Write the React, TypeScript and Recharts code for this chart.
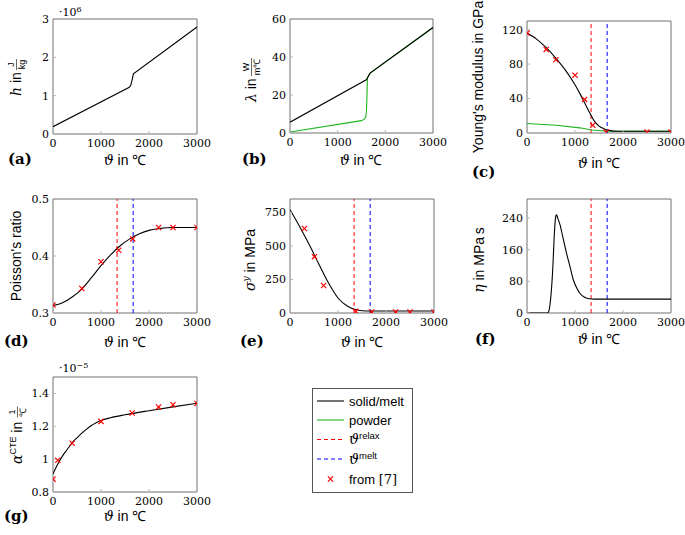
import React from 'react';
import { ComposedChart, Line, Scatter, XAxis, YAxis, ReferenceLine, ReferenceArea } from 'recharts';

const SANS = "'Liberation Sans', Arial, sans-serif";
const SERIF = "'DejaVu Serif', serif";

const tempTicks = [0, 1000, 2000, 3000];
const relaxT = 1335;
const meltT = 1670;

// (a) enthalpy, 1e6 J/kg
const enthalpyT = [0, 1590, 1620, 1650, 1675, 3000];
const enthalpy = [0.19, 1.22, 1.27, 1.42, 1.57, 2.79];

// (b) conductivity
const condSolidT = [0, 1600, 1680, 3000];
const condSolid = [5.7, 28, 31.5, 55.5];
const condPowderT = [0, 1500, 1560, 1590, 1605, 1615, 1625, 1680, 3000];
const condPowder = [0.5, 6.5, 7.3, 8.5, 12, 20, 29, 31.5, 55.5];

// (c) Young's modulus
const youngT = [0, 200, 400, 600, 800, 1000, 1100, 1200, 1300, 1400, 1500, 1600, 1700, 1900, 3000];
const youngSolid = [116, 109, 99, 87, 73, 56, 46, 35, 24, 14, 8, 5, 3, 2, 2];
const youngPowderT = [0, 600, 1100, 1350, 1700, 3000];
const youngPowder = [11, 9, 6, 3.5, 2, 2];
const youngRefT = [0, 400, 600, 1000, 1200, 1370, 1650, 2500, 3000];
const youngRef = [116, 97, 85, 67, 39, 9, 1, 1, 1];

// (d) Poisson's ratio
const poissonT = [0, 200, 400, 600, 800, 1000, 1200, 1400, 1600, 1800, 2000, 2200, 2500, 3000];
const poisson = [0.313, 0.318, 0.328, 0.342, 0.362, 0.383, 0.402, 0.418, 0.43, 0.439, 0.445, 0.448, 0.45, 0.45];
const poissonRefT = [0, 600, 1000, 1370, 1660, 2200, 2500, 3000];
const poissonRef = [0.314, 0.343, 0.39, 0.41, 0.43, 0.45, 0.45, 0.45];

// (e) yield stress
const yieldT = [0, 200, 400, 600, 800, 1000, 1200, 1400, 1600, 3000];
const yieldFit = [770, 645, 510, 365, 225, 112, 50, 22, 15, 15];
const yieldRefT = [300, 510, 700, 1370, 1700, 2200, 2500, 3000];
const yieldRef = [630, 420, 205, 12, 8, 8, 8, 8];

// (f) viscosity
const viscT = [0, 420, 450, 480, 510, 540, 570, 600, 615, 640, 690, 750, 830, 900, 970, 1050, 1100, 1200, 1300, 1400, 3000];
const visc = [0, 0, 3, 22, 60, 120, 200, 245, 248, 240, 222, 190, 148, 115, 82, 60, 50, 40, 36, 35, 35];

// (g) thermal expansion, 1e-5 1/C
const cteT = [0, 100, 200, 300, 400, 500, 600, 700, 800, 900, 1000, 1200, 1500, 2000, 2500, 3000];
const cte = [0.91, 0.97, 1.02, 1.06, 1.1, 1.13, 1.158, 1.183, 1.205, 1.222, 1.235, 1.252, 1.27, 1.295, 1.318, 1.34];
const cteRefT = [0, 100, 400, 1000, 1650, 2200, 2500, 3000];
const cteRef = [0.878, 0.993, 1.097, 1.23, 1.281, 1.318, 1.331, 1.339];

const pts = (xs: number[], ys: number[]) => xs.map((x, i) => ({ x, y: ys[i] }));

function Cross(props: any) {
    const { cx, cy } = props;
    if (cx == null || cy == null) return null;
    const s = 2.6;
    return (
        <path
            d={`M${cx - s},${cy - s}L${cx + s},${cy + s}M${cx - s},${cy + s}L${cx + s},${cy - s}`}
            stroke="#ff0000"
            strokeWidth={1.2}
            fill="none"
        />
    );
}

type Curve = { data: { x: number; y: number }[]; color: string; type?: 'linear' | 'monotone' };

type PanelProps = {
    left: number;
    top: number;
    w: number;
    h: number;
    yDomain: [number, number];
    yTicks: number[];
    curves: Curve[];
    markers?: { x: number; y: number }[];
    refLines?: boolean;
};

function Panel({ left, top, w, h, yDomain, yTicks, curves, markers, refLines }: PanelProps) {
    const YW = 45;
    const MT = 8;
    const MR = 24;
    const XH = 30;
    return (
        <div style={{ position: 'absolute', left: left - YW, top: top - MT }}>
            <ComposedChart width={w + YW + MR} height={h + MT + XH} margin={{ top: MT, right: MR, bottom: 0, left: 0 }}>
                <XAxis
                    dataKey="x"
                    type="number"
                    domain={[0, 3000]}
                    ticks={tempTicks}
                    interval={0}
                    allowDataOverflow
                    axisLine={false}
                    tickSize={-3}
                    tickMargin={8}
                    tickLine={{ stroke: '#b5b5b5' }}
                    tick={{ fontFamily: SERIF, fontSize: 11, fill: '#000' }}
                    height={XH}
                />
                <YAxis
                    dataKey="y"
                    type="number"
                    domain={yDomain}
                    ticks={yTicks}
                    interval={0}
                    allowDataOverflow
                    axisLine={false}
                    width={YW}
                    tickSize={-3}
                    tickMargin={7}
                    tickLine={{ stroke: '#b5b5b5' }}
                    tick={{ fontFamily: SERIF, fontSize: 11, fill: '#000' }}
                />
                <ReferenceArea x1={0} x2={3000} y1={yDomain[0]} y2={yDomain[1]} fill="none" fillOpacity={0} stroke="#707070" strokeWidth={1} />
                {refLines && <ReferenceLine x={relaxT} stroke="#ff0000" strokeDasharray="4 3" strokeWidth={1} />}
                {refLines && <ReferenceLine x={meltT} stroke="#0000ff" strokeDasharray="4 3" strokeWidth={1} />}
                {curves.map((c, i) => (
                    <Line
                        key={i}
                        data={c.data}
                        dataKey="y"
                        type={c.type || 'monotone'}
                        stroke={c.color}
                        strokeWidth={1.1}
                        dot={false}
                        isAnimationActive={false}
                    />
                ))}
                {markers && <Scatter data={markers} dataKey="y" shape={<Cross />} isAnimationActive={false} />}
            </ComposedChart>
        </div>
    );
}

const Rot = ({ x, y, children }: { x: number; y: number; children: React.ReactNode }) => (
    <g transform={`translate(${x},${y}) rotate(-90)`}>{children}</g>
);

function Frac({ x, num, den, half = 5.5 }: { x: number; num: string; den: string; half?: number }) {
    return (
        <g fontFamily={SANS} fontSize={9}>
            <text x={x} y={-7} textAnchor="middle">{num}</text>
            <line x1={x - half} x2={x + half} y1={-4.5} y2={-4.5} stroke="#000" strokeWidth={0.6} />
            <text x={x} y={4} textAnchor="middle">{den}</text>
        </g>
    );
}

const XLab = ({ cx, y }: { cx: number; y: number }) => (
    <text x={cx} y={y} textAnchor="middle" fontFamily={SANS} fontSize={14}>
        <tspan fontFamily={SERIF} fontStyle="italic">ϑ</tspan> in ℃
    </text>
);

const Letter = ({ x, y, t }: { x: number; y: number; t: string }) => (
    <text x={x} y={y} fontFamily={SERIF} fontWeight="bold" fontSize={15}>{t}</text>
);

function Annotations() {
    const green = '#1fb51f';
    return (
        <svg width={685} height={535} style={{ position: 'absolute', left: 0, top: 0, pointerEvents: 'none' }}>
            {/* multipliers */}
            <text x={59} y={16} fontFamily={SERIF} fontSize={11}>·10<tspan fontSize={8} dy={-4}>6</tspan></text>
            <text x={59} y={372} fontFamily={SERIF} fontSize={11}>·10<tspan fontSize={8} dy={-4}>−5</tspan></text>

            {/* y labels */}
            <Rot x={21} y={77}>
                <text x={-19} y={0} fontFamily={SANS} fontSize={14}>
                    <tspan fontFamily={SERIF} fontStyle="italic">h</tspan> in
                </text>
                <Frac x={12.5} num="J" den="kg" />
            </Rot>
            <Rot x={256} y={79}>
                <text x={-23} y={0} fontFamily={SANS} fontSize={14}>
                    <tspan fontFamily={SERIF} fontStyle="italic">λ</tspan> in
                </text>
                <Frac x={12} num="W" den="m℃" half={9} />
            </Rot>
            <Rot x={483} y={77}>
                <text x={0} y={0} textAnchor="middle" fontFamily={SANS} fontSize={14}>Young's modulus in GPa</text>
            </Rot>
            <Rot x={21} y={256}>
                <text x={0} y={0} textAnchor="middle" fontFamily={SANS} fontSize={14}>Poisson's ratio</text>
            </Rot>
            <Rot x={255} y={260}>
                <text x={0} y={0} textAnchor="middle" fontFamily={SANS} fontSize={14}>
                    <tspan fontFamily={SERIF} fontStyle="italic">σ</tspan>
                    <tspan fontFamily={SERIF} fontStyle="italic" fontSize={9} dy={-6}>y</tspan>
                    <tspan dy={6}> in MPa</tspan>
                </text>
            </Rot>
            <Rot x={484} y={260}>
                <text x={0} y={0} textAnchor="middle" fontFamily={SANS} fontSize={14}>
                    <tspan fontFamily={SERIF} fontStyle="italic">η</tspan> in MPa{'\u2009'}s
                </text>
            </Rot>
            <Rot x={22} y={433}>
                <text x={-31} y={0} fontFamily={SANS} fontSize={14}>
                    <tspan fontFamily={SERIF} fontStyle="italic">α</tspan>
                    <tspan fontSize={9} dy={-6}>CTE</tspan>
                    <tspan dy={6}> in</tspan>
                </text>
                <Frac x={21} num="1" den="℃" />
            </Rot>

            {/* x labels */}
            <XLab cx={125} y={165} />
            <XLab cx={361} y={165} />
            <XLab cx={599} y={168} />
            <XLab cx={125} y={347} />
            <XLab cx={362} y={347} />
            <XLab cx={599} y={344} />
            <XLab cx={125} y={521} />

            {/* panel letters */}
            <Letter x={8} y={164} t="(a)" />
            <Letter x={242} y={164} t="(b)" />
            <Letter x={472} y={177} t="(c)" />
            <Letter x={4} y={346} t="(d)" />
            <Letter x={240} y={346} t="(e)" />
            <Letter x={475} y={344} t="(f)" />
            <Letter x={4} y={521} t="(g)" />

            {/* legend */}
            <rect x={312.5} y={388.5} width={100} height={104} fill="#fff" stroke="#555" strokeWidth={1} />
            <line x1={317} x2={344} y1={401} y2={401} stroke="#000" strokeWidth={1.1} />
            <line x1={317} x2={344} y1={420} y2={420} stroke={green} strokeWidth={1.1} />
            <line x1={317} x2={344} y1={439.5} y2={439.5} stroke="#ff0000" strokeWidth={1.1} strokeDasharray="4 3" />
            <line x1={317} x2={344} y1={459} y2={459} stroke="#0000ff" strokeWidth={1.1} strokeDasharray="4 3" />
            <Cross cx={330.5} cy={479} />
            <g fontFamily={SANS} fontSize={13}>
                <text x={349} y={405.5}>solid/melt</text>
                <text x={349} y={424.5}>powder</text>
                <text x={349} y={444}>
                    <tspan fontFamily={SERIF} fontStyle="italic" fontSize={14}>ϑ</tspan>
                    <tspan fontSize={9.5} dy={-5}>relax</tspan>
                </text>
                <text x={349} y={463.5}>
                    <tspan fontFamily={SERIF} fontStyle="italic" fontSize={14}>ϑ</tspan>
                    <tspan fontSize={9.5} dy={-5}>melt</tspan>
                </text>
                <text x={349} y={483.5}>
                    from <tspan fontFamily={SERIF}>[7]</tspan>
                </text>
            </g>
        </svg>
    );
}

export default function App() {
    const black = '#000000';
    const green = '#1fb51f';
    return (
        <div style={{ position: 'absolute', left: 0, top: 0, width: 685, height: 535, background: '#fff', overflow: 'hidden' }}>
            <Panel left={53} top={19} w={144} h={115} yDomain={[0, 3]} yTicks={[0, 1, 2, 3]}
                curves={[{ data: pts(enthalpyT, enthalpy), color: black, type: 'linear' }]} />
            <Panel left={290} top={19} w={143} h={114} yDomain={[0, 60]} yTicks={[0, 20, 40, 60]}
                curves={[
                    { data: pts(condPowderT, condPowder), color: green, type: 'linear' },
                    { data: pts(condSolidT, condSolid), color: black, type: 'linear' },
                ]} />
            <Panel left={527} top={21} w={144} h={112} yDomain={[0, 130]} yTicks={[0, 40, 80, 120]} refLines
                curves={[
                    { data: pts(youngPowderT, youngPowder), color: green, type: 'linear' },
                    { data: pts(youngT, youngSolid), color: black },
                ]}
                markers={pts(youngRefT, youngRef)} />
            <Panel left={53} top={199} w={144} h={114} yDomain={[0.3, 0.5]} yTicks={[0.3, 0.4, 0.5]} refLines
                curves={[{ data: pts(poissonT, poisson), color: black }]}
                markers={pts(poissonRefT, poissonRef)} />
            <Panel left={290} top={199} w={144} h={114} yDomain={[0, 850]} yTicks={[0, 250, 500, 750]} refLines
                curves={[{ data: pts(yieldT, yieldFit), color: black }]}
                markers={pts(yieldRefT, yieldRef)} />
            <Panel left={527} top={199} w={144} h={114} yDomain={[0, 288]} yTicks={[0, 80, 160, 240]} refLines
                curves={[{ data: pts(viscT, visc), color: black }]} />
            <Panel left={53} top={377} w={144} h={115} yDomain={[0.8, 1.5]} yTicks={[0.8, 1, 1.2, 1.4]}
                curves={[{ data: pts(cteT, cte), color: black }]}
                markers={pts(cteRefT, cteRef)} />
            <Annotations />
        </div>
    );
}
